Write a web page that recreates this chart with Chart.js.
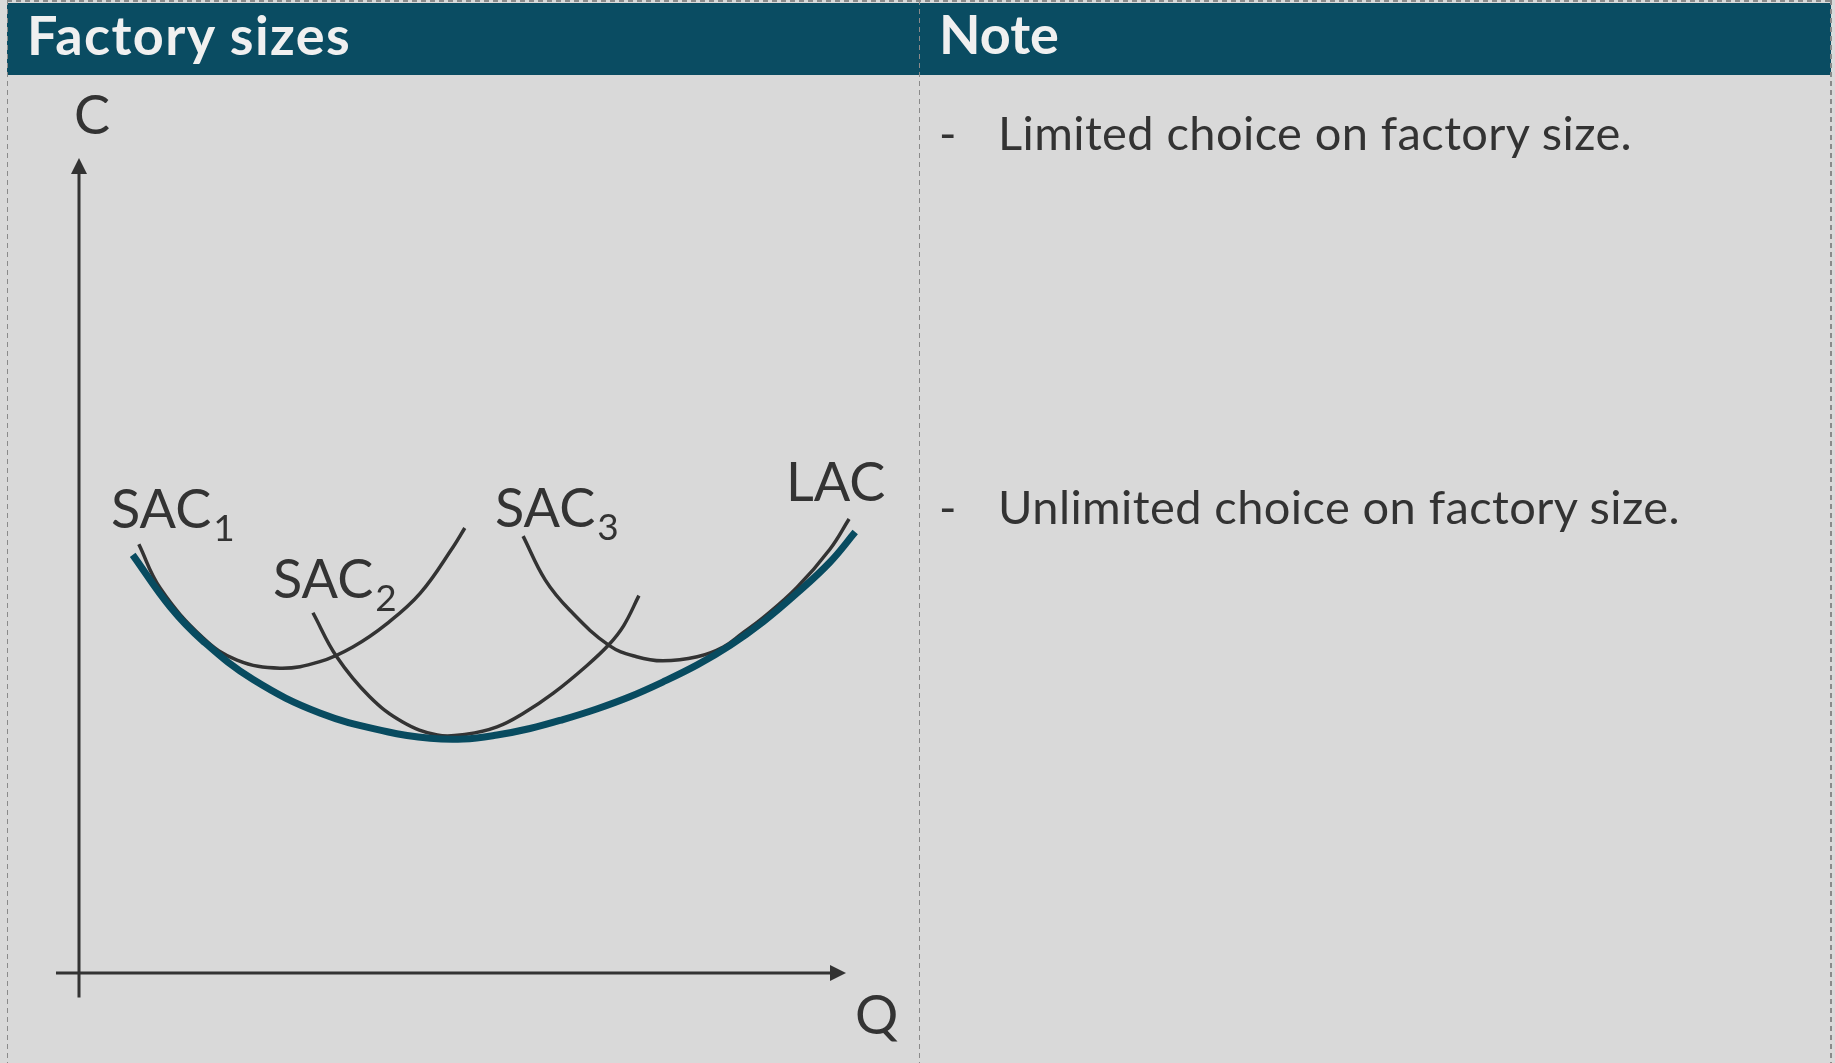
<!DOCTYPE html>
<html>
<head>
<meta charset="utf-8">
<script src="https://cdn.jsdelivr.net/npm/chart.js@4.4.0/dist/chart.umd.min.js"></script>
<style>
  html, body { margin:0; padding:0; width:1835px; height:1063px; overflow:hidden; background:#d9d9d9; }
  #stage { position:relative; width:1835px; height:1063px; font-family:Lato, "Open Sans", sans-serif; color:#333; }
  .hdr { position:absolute; left:7px; top:3px; width:1824px; height:72px; background:#0a4c62; }
  .vdash { position:absolute; top:0; width:1.5px; height:1063px;
           background:repeating-linear-gradient(to bottom, #8a8a8a 0 5px, transparent 5px 9px); }
  .hdash { position:absolute; left:7px; top:0; width:1824px; height:1.5px;
           background:repeating-linear-gradient(to right, #8a8a8a 0 5px, transparent 5px 9px); }
  .t { position:absolute; line-height:1; white-space:nowrap; }
  .htxt { color:#f0f0f0; font-weight:700; font-size:54px; }
  .lbl { font-size:54px; color:#333; }
  .lbl sub { font-size:37px; vertical-align:-13px; line-height:0; margin-left:2px; }
  .note { font-size:47px; color:#333; letter-spacing:0.4px; }
  canvas { position:absolute; left:0; top:0; }
</style>
</head>
<body>
<div id="stage">
  <div class="hdr"></div>
  <div class="hdash"></div>
  <div class="vdash" style="left:6.5px"></div>
  <div class="vdash" style="left:918.5px"></div>
  <div class="vdash" style="left:1830px"></div>

  <div class="t htxt" style="left:27px; top:8px; letter-spacing:1.4px">Factory sizes</div>
  <div class="t htxt" style="left:939px; top:7px">Note</div>

  <canvas id="c" width="1835" height="1063"></canvas>

  <div class="t lbl" style="left:74px; top:87px">C</div>
  <div class="t lbl" style="left:855px; top:987px">Q</div>
  <div class="t lbl" style="left:111px; top:481px">SAC<sub>1</sub></div>
  <div class="t lbl" style="left:273px; top:551px">SAC<sub>2</sub></div>
  <div class="t lbl" style="left:495px; top:480px">SAC<sub>3</sub></div>
  <div class="t lbl" style="left:786px; top:454px">LAC</div>

  <div class="t note" style="left:939px; top:109px">-</div>
  <div class="t note" style="left:998px; top:109px">Limited choice on factory size.</div>
  <div class="t note" style="left:939px; top:483px">-</div>
  <div class="t note" style="left:998px; top:483px">Unlimited choice on factory size.</div>
</div>

<script>
// ---- Data (Q = quantity, C = average cost) ----
const lacQ  = [7.0, 11.9, 16.2, 22.7, 31.4, 40.2, 45.8, 50.1, 54.5, 58.8, 63.1, 67.5, 71.8, 76.1, 80.6, 84.9, 89.2, 93.6, 97.9, 101.2];
const lacC  = [51.3, 44.9, 40.7, 36.0, 31.9, 29.6, 28.8, 28.7, 29.2, 30.0, 31.1, 32.4, 33.9, 35.7, 37.8, 40.2, 43.1, 46.6, 50.4, 54.1];

const sac1Q = [7.8, 10.6, 16.2, 20.6, 26.2, 31.4, 35.7, 40.2, 44.5, 48.8, 50.3];
const sac1C = [52.6, 47.2, 41.1, 38.4, 37.4, 38.2, 40.0, 42.9, 46.6, 52.3, 54.6];

const sac2Q = [30.5, 33.6, 37.9, 42.2, 46.7, 50.5, 54.5, 58.0, 61.8, 66.2, 69.1, 71.0, 73.0];
const sac2C = [44.2, 38.8, 33.9, 30.8, 29.2, 29.3, 30.2, 31.9, 34.3, 37.7, 40.3, 42.6, 46.3];

const sac3Q = [57.9, 60.8, 64.0, 69.1, 72.7, 76.1, 80.6, 84.0, 86.5, 89.2, 93.6, 97.9, 100.4];
const sac3C = [53.6, 48.2, 44.5, 40.2, 38.8, 38.3, 38.8, 40.0, 41.7, 43.6, 47.3, 52.0, 55.7];

// axis extents (data units)
const axisQ = [-3, 100];
const axisC = [-3, 100];

const pts = (qs, cs) => qs.map((q, i) => ({ x: q, y: cs[i] }));

const axesPlugin = {
  id: 'econAxes',
  beforeDatasetsDraw(chart) {
    const { ctx, scales: { x, y } } = chart;
    const x0 = x.getPixelForValue(0), y0 = y.getPixelForValue(0);
    const yTop = y.getPixelForValue(axisC[1]), yBot = y.getPixelForValue(axisC[0]);
    const xL = x.getPixelForValue(axisQ[0]), xR = x.getPixelForValue(axisQ[1]);
    ctx.save();
    ctx.strokeStyle = '#333'; ctx.fillStyle = '#333'; ctx.lineWidth = 3;
    ctx.beginPath(); ctx.moveTo(x0, yBot); ctx.lineTo(x0, yTop + 12); ctx.stroke();
    ctx.beginPath(); ctx.moveTo(x0, yTop); ctx.lineTo(x0 - 8, yTop + 16); ctx.lineTo(x0 + 8, yTop + 16); ctx.closePath(); ctx.fill();
    ctx.beginPath(); ctx.moveTo(xL, y0); ctx.lineTo(xR - 12, y0); ctx.stroke();
    ctx.beginPath(); ctx.moveTo(xR, y0); ctx.lineTo(xR - 16, y0 - 8); ctx.lineTo(xR - 16, y0 + 8); ctx.closePath(); ctx.fill();
    ctx.restore();
  }
};

const thin = { borderColor:'#333333', borderWidth:3.5, pointRadius:0, tension:0.4, fill:false, order:1 };

new Chart(document.getElementById('c'), {
  type: 'line',
  data: {
    datasets: [
      { label:'LAC', data: pts(lacQ, lacC), borderColor:'#084b60', borderWidth:7, pointRadius:0,
        tension:0.4, fill:false, order:0 },
      Object.assign({ label:'SAC1', data: pts(sac1Q, sac1C) }, thin),
      Object.assign({ label:'SAC2', data: pts(sac2Q, sac2C) }, thin),
      Object.assign({ label:'SAC3', data: pts(sac3Q, sac3C) }, thin)
    ]
  },
  options: {
    responsive:false, animation:false, devicePixelRatio:1,
    layout: { padding: { left:48.32, right:912.3, top:76.5, bottom:57.4 } },
    scales: {
      x: { type:'linear', min:-4, max:110, display:false },
      y: { type:'linear', min:-4, max:110, display:false }
    },
    plugins: { legend:{ display:false }, tooltip:{ enabled:false }, title:{ display:false } }
  },
  plugins: [axesPlugin]
});
</script>
</body>
</html>
